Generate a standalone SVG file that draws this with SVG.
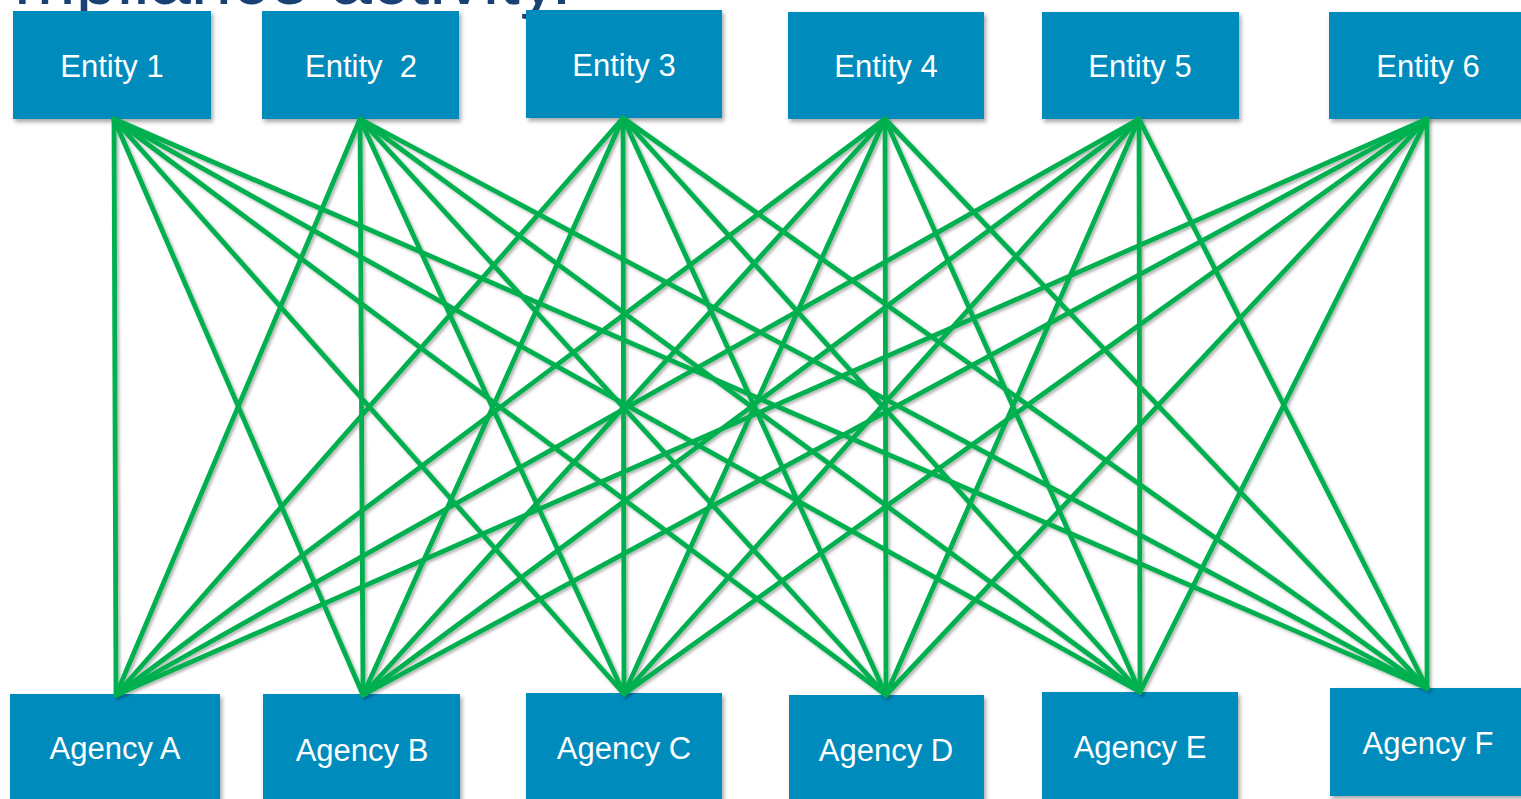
<svg xmlns="http://www.w3.org/2000/svg" width="1521" height="799" viewBox="0 0 1521 799">
  <defs>
    <filter id="boxShadow" x="-10%" y="-10%" width="125%" height="130%">
      <feDropShadow dx="2" dy="3" stdDeviation="2" flood-color="#000" flood-opacity="0.35"/>
    </filter>
    <filter id="lineShadow" x="-5%" y="-5%" width="110%" height="110%">
      <feDropShadow dx="2" dy="2" stdDeviation="1.5" flood-color="#000" flood-opacity="0.3"/>
    </filter>
  </defs>
  <style>
    .box { fill: #028bbd; filter: url(#boxShadow); }
    .label { font-family: "Liberation Sans", Arial, sans-serif; font-size: 31px; fill: #ffffff; text-anchor: middle; white-space: pre; }
    .heading { font-family: "Liberation Sans", Arial, sans-serif; font-size: 74px; fill: #1a4173; }
    #connectors line { stroke: #00b050; stroke-width: 4.8; stroke-linecap: round; }
    #connectors { filter: url(#lineShadow); }
  </style>

  <rect width="1521" height="799" fill="#ffffff"/>

  <!-- title line running off the top edge -->
  <text class="heading" x="14" y="4">mpliance activity.</text>

  <!-- entities (top row) -->
  <g id="entity-1"><rect class="box" x="13" y="11" width="198" height="108"/><text class="label" x="112" y="77">Entity 1</text></g>
  <g id="entity-2"><rect class="box" x="262" y="11" width="197" height="108"/><text class="label" x="361" y="77">Entity  2</text></g>
  <g id="entity-3"><rect class="box" x="526" y="10" width="196" height="108"/><text class="label" x="624" y="76">Entity 3</text></g>
  <g id="entity-4"><rect class="box" x="788" y="12" width="196" height="107"/><text class="label" x="886" y="77">Entity 4</text></g>
  <g id="entity-5"><rect class="box" x="1042" y="12" width="197" height="107"/><text class="label" x="1140" y="77">Entity 5</text></g>
  <g id="entity-6"><rect class="box" x="1329" y="12" width="200" height="107"/><text class="label" x="1428" y="77">Entity 6</text></g>

  <!-- agencies (bottom row) -->
  <g id="agency-a"><rect class="box" x="10" y="694" width="210" height="110"/><text class="label" x="115" y="759">Agency A</text></g>
  <g id="agency-b"><rect class="box" x="263" y="694" width="197" height="110"/><text class="label" x="362" y="761">Agency B</text></g>
  <g id="agency-c"><rect class="box" x="526" y="693" width="196" height="110"/><text class="label" x="624" y="759">Agency C</text></g>
  <g id="agency-d"><rect class="box" x="789" y="695" width="195" height="110"/><text class="label" x="886" y="761">Agency D</text></g>
  <g id="agency-e"><rect class="box" x="1042" y="692" width="196" height="110"/><text class="label" x="1140" y="758">Agency E</text></g>
  <g id="agency-f"><rect class="box" x="1330" y="688" width="195" height="108"/><text class="label" x="1428" y="754">Agency F</text></g>

  <!-- every entity links to every agency -->
  <g id="connectors">
    <line x1="114" y1="119" x2="116" y2="695"/>
    <line x1="114" y1="119" x2="363" y2="695"/>
    <line x1="114" y1="119" x2="624" y2="694"/>
    <line x1="114" y1="119" x2="886" y2="695"/>
    <line x1="114" y1="119" x2="1140" y2="692"/>
    <line x1="114" y1="119" x2="1427" y2="688"/>

    <line x1="360" y1="119" x2="116" y2="695"/>
    <line x1="360" y1="119" x2="363" y2="695"/>
    <line x1="360" y1="119" x2="624" y2="694"/>
    <line x1="360" y1="119" x2="886" y2="695"/>
    <line x1="360" y1="119" x2="1140" y2="692"/>
    <line x1="360" y1="119" x2="1427" y2="688"/>

    <line x1="623" y1="118" x2="116" y2="695"/>
    <line x1="623" y1="118" x2="363" y2="695"/>
    <line x1="623" y1="118" x2="624" y2="694"/>
    <line x1="623" y1="118" x2="886" y2="695"/>
    <line x1="623" y1="118" x2="1140" y2="692"/>
    <line x1="623" y1="118" x2="1427" y2="688"/>

    <line x1="885" y1="119" x2="116" y2="695"/>
    <line x1="885" y1="119" x2="363" y2="695"/>
    <line x1="885" y1="119" x2="624" y2="694"/>
    <line x1="885" y1="119" x2="886" y2="695"/>
    <line x1="885" y1="119" x2="1140" y2="692"/>
    <line x1="885" y1="119" x2="1427" y2="688"/>

    <line x1="1139" y1="119" x2="116" y2="695"/>
    <line x1="1139" y1="119" x2="363" y2="695"/>
    <line x1="1139" y1="119" x2="624" y2="694"/>
    <line x1="1139" y1="119" x2="886" y2="695"/>
    <line x1="1139" y1="119" x2="1140" y2="692"/>
    <line x1="1139" y1="119" x2="1427" y2="688"/>

    <line x1="1427" y1="119" x2="116" y2="695"/>
    <line x1="1427" y1="119" x2="363" y2="695"/>
    <line x1="1427" y1="119" x2="624" y2="694"/>
    <line x1="1427" y1="119" x2="886" y2="695"/>
    <line x1="1427" y1="119" x2="1140" y2="692"/>
    <line x1="1427" y1="119" x2="1427" y2="688"/>
  </g>
</svg>
